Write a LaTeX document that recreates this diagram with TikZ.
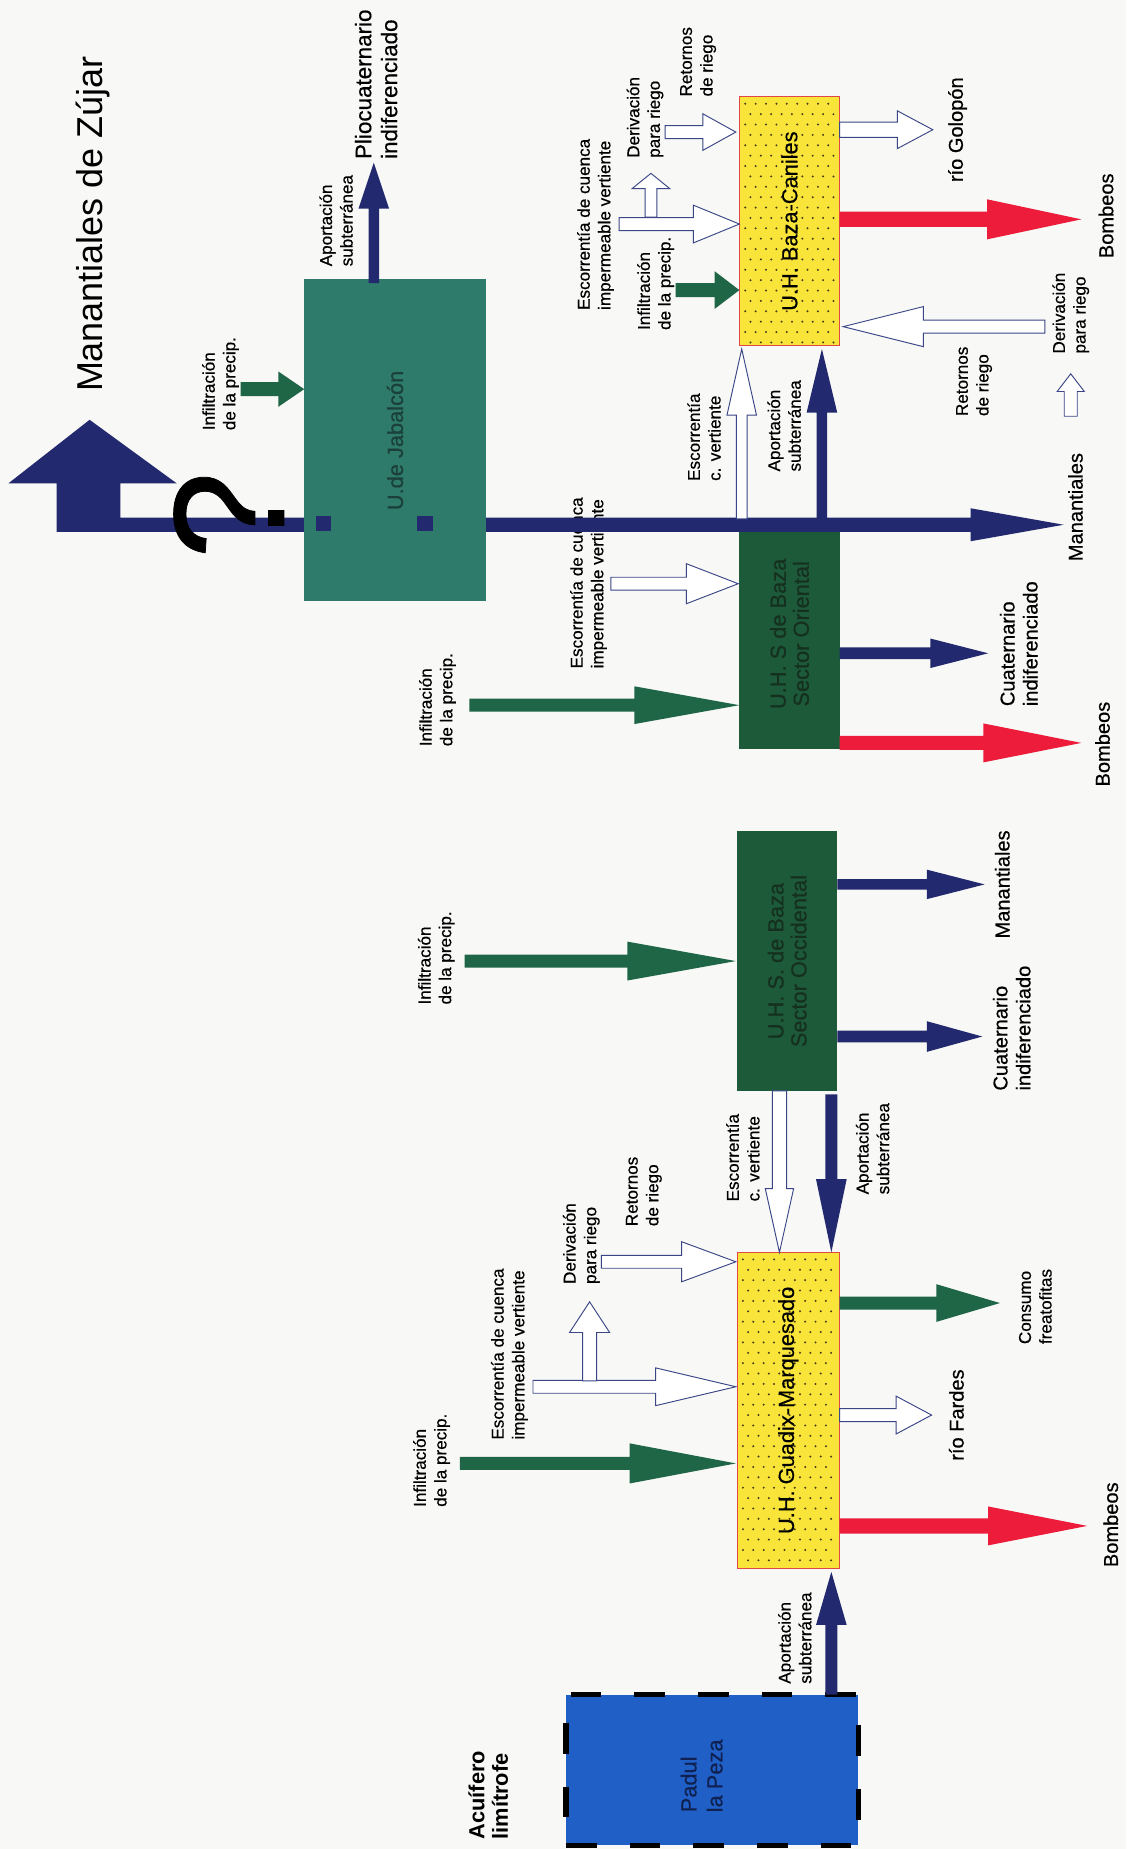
\documentclass[tikz,border=0pt]{standalone}
\usepackage{fontspec}
\setmainfont{Liberation Sans}
\newfontfamily\lbf[FakeBold=0.5]{Liberation Sans}
\definecolor{navy}{HTML}{23296E}
\definecolor{teal1}{HTML}{2E7B6C}
\definecolor{dgreen}{HTML}{1C5A3A}
\definecolor{agreen}{HTML}{1F6647}
\definecolor{ared}{HTML}{EC1C3A}
\definecolor{ayellow}{HTML}{F9E43A}
\definecolor{yred}{HTML}{E04848}
\definecolor{pblue}{HTML}{1F5FC6}
\definecolor{bgc}{HTML}{F8F8F6}
\definecolor{hollowc}{HTML}{3B4687}
\definecolor{dotc}{HTML}{4A3E1A}
\definecolor{jabtext}{HTML}{1B3F3A}
\definecolor{dtext}{HTML}{16301F}
\definecolor{ptext}{HTML}{102050}
% #1 style, #2 tail, #3 head base, #4 tip, #5 centre (other axis), #6 shaft half, #7 head half
\newcommand\harr[7]{\path[#1] (#2,{#5-#6}) -- (#3,{#5-#6}) -- (#3,{#5-#7}) -- (#4,#5) -- (#3,{#5+#7}) -- (#3,{#5+#6}) -- (#2,{#5+#6}) -- cycle;}
\newcommand\varr[7]{\path[#1] ({#5-#6},#2) -- ({#5-#6},#3) -- ({#5-#7},#3) -- (#5,#4) -- ({#5+#7},#3) -- ({#5+#6},#3) -- ({#5+#6},#2) -- cycle;}
\begin{document}
\begin{tikzpicture}[x=1pt,y=-1pt,
  lab/.style={rotate=90,anchor=west,align=left,inner sep=0pt,font=\lbf\fontsize{14.5}{17.5}\selectfont},
  outl/.style={rotate=90,anchor=west,align=left,inner sep=0pt,font=\lbf\fontsize{17}{19.5}\selectfont},
  outc/.style={rotate=90,anchor=center,inner sep=0pt,font=\lbf\fontsize{17}{19.5}\selectfont},
  boxn/.style={rotate=90,inner sep=0pt,align=center,font=\lbf\fontsize{18.5}{19.5}\selectfont},
  hollow/.style={fill=white,draw=hollowc,line width=0.8pt},
  navyf/.style={fill=navy},
  greenf/.style={fill=agreen},
  redf/.style={fill=ared},
  sq/.style={fill=navy,minimum size=13pt,inner sep=0pt}
]
\fill[bgc] (0,0) rectangle (955,1568);
\useasboundingbox (0,0) rectangle (955,1568);

% ---------- labels drawn beneath connectors ----------
\node[lab] (l1) at (187,365) {Infiltración\\de la precip.};
\node[lab] (l2) at (285,226) {Aportación\\subterránea};
\node[rotate=90,anchor=west,align=left,inner sep=0pt,font=\lbf\fontsize{19}{22}\selectfont] (plio) at (319,135) {Pliocuaternario\\indiferenciado};
\node[rotate=90,inner sep=0pt,font=\fontsize{30.5}{32}\selectfont] (title) at (79,190) {Manantiales de Zújar};

\node[lab] (l3) at (592,82) {Retornos\\de riego};
\node[lab] (l4) at (547,134) {Derivación\\para riego};
\node[lab] (l5) at (505,263) {Escorrentía de cuenca\\impermeable vertiente};
\node[lab] (l6) at (556,280) {Infiltración\\de la precip.};
\node[lab] (l7) at (597,408) {Escorrentía\\c. vertiente};
\node[lab] (l8) at (665,400) {Aportación\\subterránea};
\node[lab] (l9) at (826,353) {Retornos\\de riego};
\node[lab] (l10) at (908,300) {Derivación\\para riego};
\node[outc] (o1) at (812,110) {río Golopón};
\node[outc] (o2) at (938,183) {Bombeos};

\node[lab] (l11) at (499,567) {Escorrentía de cuenca\\impermeable vertiente};
\node[lab] (l12) at (371,633) {Infiltración\\de la precip.};
\node[outl] (o3) at (864,599) {Cuaternario\\indiferenciado};
\node[outc] (o4) at (912,430) {Manantiales};
\node[outc] (o5) at (935,631) {Bombeos};

\node[lab] (l13) at (370,852) {Infiltración\\de la precip.};
\node[outc] (o6) at (850,750) {Manantiales};
\node[outl] (o7) at (858,925) {Cuaternario\\indiferenciado};
\node[lab] (l14) at (630,1019) {Escorrentía\\c. vertiente};
\node[lab] (l15) at (740,1013) {Aportación\\subterránea};

\node[lab] (l16) at (493,1089) {Derivación\\para riego};
\node[lab] (l17) at (546,1040) {Retornos\\de riego};
\node[lab] (l18) at (432,1221) {Escorrentía de cuenca\\impermeable vertiente};
\node[lab] (l19) at (366,1278) {Infiltración\\de la precip.};
\node[lab] (l20) at (878,1140) {Consumo\\freatofitas};
\node[outc] (o8) at (811,1200) {río Fardes};
\node[outc] (o9) at (942,1293) {Bombeos};
\node[lab] (l21) at (674,1428) {Aportación\\subterránea};

% ---------- boxes ----------
\node[boxn,fill=dgreen,text=dtext,minimum width=195pt,minimum height=85pt] (ori) at (669.5,537.5) {U.H. S de Baza\\Sector Oriental};
\node[boxn,fill=dgreen,text=dtext,minimum width=220pt,minimum height=85pt] (occ) at (667.5,815) {U.H. S. de Baza\\Sector Occidental};

% main line to Manantiales and the big arrow
\path[navyf] (48,451) -- (823,451) -- (823,459) -- (902,445) -- (823,431) -- (823,439) -- (102,439) -- (102,410) -- (150,410) -- (76,356) -- (7,410) -- (48,410) -- cycle;

\node[boxn,fill=teal1,text=jabtext,minimum width=273pt,minimum height=154pt] (jab) at (335,373.5) {U.de Jabalcón};
\node[sq] (s1) at (274.5,444) {};
\node[sq] (s2) at (360.5,444) {};
\node[rotate=90,inner sep=0pt,font=\lbf\fontsize{134}{134}\selectfont] (q) at (194,437) {?};

% yellow boxes
\node[rotate=90,fill=ayellow,draw=yred,line width=0.6pt,minimum width=211pt,minimum height=85pt,inner sep=0pt] (bc) at (669.5,187.5) {};
\foreach \i in {0,...,8} \foreach \j in {0,...,23} {\fill[dotc] ({632+\i*8.8+mod(\j,2)*4.4},{88+\j*8.8}) circle (0.95);}
\node[boxn] (bct) at (bc.center) {U.H. Baza-Caniles};

\node[rotate=90,fill=ayellow,draw=yred,line width=0.6pt,minimum width=268pt,minimum height=87pt,inner sep=0pt] (gm) at (668.5,1196) {};
\foreach \i in {0,...,8} \foreach \j in {0,...,29} {\fill[dotc] ({630+\i*8.8+mod(\j,2)*4.4},{1068+\j*8.8}) circle (0.95);}
\node[boxn] (gmt) at (gm.center) {U.H. Guadix-Marquesado};

% Padul
\node[fill=pblue,draw=black,line width=5pt,dash pattern=on 26pt off 28pt,minimum width=248pt,minimum height=128pt,inner sep=0pt] (pad) at (604,1501) {};
\node[rotate=90,anchor=west,align=left,inner sep=0pt,text=ptext,font=\lbf\fontsize{18.5}{22}\selectfont] (padt) at (595,1537) {Padul\\la Peza};
\node[rotate=90,anchor=west,align=left,inner sep=0pt,font=\fontsize{18.5}{20}\bfseries\selectfont] (acu) at (414,1560) {Acuífero\\limítrofe};

% ---------- arrows: Jabalcón ----------
\harr{greenf}{204}{236}{258}{330}{6}{15}
\varr{navyf}{240}{177}{138}{317}{4.5}{13}

% ---------- arrows: Baza-Caniles ----------
\harr{greenf}{573}{606}{627}{246}{6}{16}
\harr{hollow}{525}{588}{627}{190}{5.5}{16}
\varr{hollow}{184}{160}{147}{552}{5}{16}
\harr{hollow}{564}{596}{624}{112}{5.5}{15.5}
\harr{hollow}{712}{761}{791}{110}{6.5}{16}
\harr{redf}{712}{837}{917}{186}{6.5}{17}
\harr{hollow}{886}{783}{715}{277}{5.5}{17}
\varr{hollow}{353}{332}{317}{908}{5.5}{11.5}
\varr{hollow}{440}{352}{296}{629}{4.5}{12.5}
\varr{navyf}{440}{350}{296}{697}{4.5}{13}

% ---------- arrows: Sector Oriental ----------
\harr{hollow}{518}{582}{626}{495}{5.5}{17}
\harr{greenf}{398}{538}{627}{598}{5.5}{16}
\harr{navyf}{712}{789}{838}{554}{5}{12.5}
\harr{redf}{712}{834}{917}{630}{6}{16.5}

% ---------- arrows: Sector Occidental ----------
\harr{greenf}{394}{532}{624}{815}{5.5}{16.5}
\harr{navyf}{710}{786}{835}{750}{4.5}{12.5}
\harr{navyf}{710}{786}{833}{879}{5}{13}
\varr{hollow}{925}{1008}{1062}{661}{6}{12}
\varr{navyf}{928}{1000}{1062}{705}{5}{13}

% ---------- arrows: Guadix-Marquesado ----------
\harr{hollow}{510}{578}{624}{1070}{5.5}{17}
\harr{hollow}{452}{556}{624}{1176}{5.5}{16}
\varr{hollow}{1171}{1130}{1104}{500}{6}{17}
\harr{greenf}{390}{534}{624}{1241}{5.5}{17}
\harr{greenf}{712}{794}{848}{1105}{5.5}{16}
\harr{hollow}{712}{760}{790}{1200}{5.5}{16}
\harr{redf}{712}{838}{922}{1294}{6.5}{16.5}
\varr{navyf}{1437}{1378}{1333}{705}{5}{13}
\end{tikzpicture}
\end{document}
